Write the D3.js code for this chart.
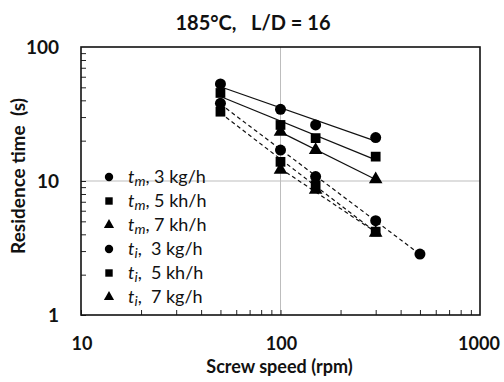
<!DOCTYPE html>
<html>
<head>
<meta charset="utf-8">
<script src="https://cdn.jsdelivr.net/npm/d3@7"></script>
<style>
  body { margin: 0; background: #fff; }
  text { font-family: Lato, "Open Sans", sans-serif; fill: #111; }
</style>
</head>
<body>
<div id="chart"></div>
<script>
// screw speed (rpm) for each series
const speedsM3 = [50, 100, 150, 300];
const speedsM5 = [50, 100, 150, 300];
const speedsM7 = [100, 150, 300];
const speedsI3 = [50, 100, 150, 300, 500];
const speedsI5 = [50, 100, 150, 300];
const speedsI7 = [100, 150, 300];

// residence time (s)
const timesM3 = [53, 34.3, 26.2, 21.1];
const timesM5 = [45.4, 26.2, 20.9, 15.2];
const timesM7 = [23.3, 17.0, 10.3];
const timesI3 = [38.0, 17.0, 10.8, 5.06, 2.85];
const timesI5 = [32.9, 13.9, 9.3, 4.19];
const timesI7 = [12.1, 8.6, 4.1];

const xTicks = [10, 100, 1000];
const yTicks = [1, 10, 100];

const series = [
  { sub: "m", label: ", 3 kg/h", shape: "circle", dashed: false, xs: speedsM3, ys: timesM3 },
  { sub: "m", label: ", 5 kh/h", shape: "square", dashed: false, xs: speedsM5, ys: timesM5 },
  { sub: "m", label: ", 7 kh/h", shape: "triangle", dashed: false, xs: speedsM7, ys: timesM7 },
  { sub: "i", label: ",  3 kg/h", shape: "circle", dashed: true, xs: speedsI3, ys: timesI3 },
  { sub: "i", label: ",  5 kh/h", shape: "square", dashed: true, xs: speedsI5, ys: timesI5 },
  { sub: "i", label: ",  7 kg/h", shape: "triangle", dashed: true, xs: speedsI7, ys: timesI7 }
];

const width = 504, height = 382;
const margin = { top: 47, right: 24, bottom: 67, left: 81 };

const svg = d3.select("#chart").append("svg")
  .attr("width", width)
  .attr("height", height);

const x = d3.scaleLog().domain([10, 1000]).range([margin.left, width - margin.right]);
const y = d3.scaleLog().domain([1, 100]).range([height - margin.bottom, margin.top]);

const symbols = {
  circle: d3.symbol().type(d3.symbolCircle).size(95),
  square: d3.symbol().type(d3.symbolSquare).size(95),
  triangle: d3.symbol().type(d3.symbolTriangle).size(80)
};

// gridlines at the middle decades
svg.append("line")
  .attr("x1", x(100)).attr("x2", x(100))
  .attr("y1", y(1)).attr("y2", y(100))
  .attr("stroke", "#bdbdbd").attr("stroke-width", 1);
svg.append("line")
  .attr("x1", x(10)).attr("x2", x(1000))
  .attr("y1", y(10)).attr("y2", y(10))
  .attr("stroke", "#bdbdbd").attr("stroke-width", 1);

// minor ticks, pointing inward
const minorX = d3.range(10, 1000).filter(v => {
  const p = Math.pow(10, Math.floor(Math.log10(v) + 1e-9));
  return v % p === 0;
});
svg.append("g")
  .attr("transform", `translate(0,${y(1)})`)
  .call(d3.axisTop(x).tickValues(minorX).tickSize(5).tickFormat(""))
  .call(g => g.select(".domain").remove())
  .selectAll("line").attr("stroke", "#222").attr("stroke-width", 1);

const minorY = d3.range(1, 100).filter(v => {
  const p = Math.pow(10, Math.floor(Math.log10(v) + 1e-9));
  return v % p === 0;
});
svg.append("g")
  .attr("transform", `translate(${x(10)},0)`)
  .call(d3.axisRight(y).tickValues(minorY).tickSize(5).tickFormat(""))
  .call(g => g.select(".domain").remove())
  .selectAll("line").attr("stroke", "#222").attr("stroke-width", 1);

// plot frame
svg.append("rect")
  .attr("x", x(10)).attr("y", y(100))
  .attr("width", x(1000) - x(10)).attr("height", y(1) - y(100))
  .attr("fill", "none").attr("stroke", "#111").attr("stroke-width", 1.6);

// tick labels
svg.selectAll(".xlab").data(xTicks).enter().append("text")
  .attr("x", d => x(d) + (d === 1000 ? -1 : 1))
  .attr("y", y(1) + 35)
  .attr("text-anchor", "middle")
  .attr("font-size", 18).attr("font-weight", "bold")
  .text(d => d);

svg.selectAll(".ylab").data(yTicks).enter().append("text")
  .attr("x", x(10) - 22)
  .attr("y", d => y(d) + 7)
  .attr("text-anchor", "end")
  .attr("font-size", 19).attr("font-weight", "bold")
  .text(d => d);

// titles
svg.append("text")
  .attr("x", 253).attr("y", 30)
  .attr("text-anchor", "middle")
  .attr("font-size", 20).attr("font-weight", "bold")
  .attr("xml:space", "preserve")
  .text("185°C,   L/D = 16");

svg.append("text")
  .attr("x", x(100) - 1).attr("y", 373)
  .attr("text-anchor", "middle")
  .attr("font-size", 18).attr("font-weight", "bold")
  .text("Screw speed (rpm)");

svg.append("text")
  .attr("transform", `translate(25,${y(10) - 5}) rotate(-90)`)
  .attr("text-anchor", "middle")
  .attr("font-size", 19).attr("font-weight", "bold")
  .attr("xml:space", "preserve")
  .text("Residence time  (s)");

// power-law trendline fitted in log-log space
function trend(xs, ys) {
  const lx = xs.map(Math.log10), ly = ys.map(Math.log10);
  const mx = d3.mean(lx), my = d3.mean(ly);
  const b = d3.sum(lx, (v, i) => (v - mx) * (ly[i] - my)) / d3.sum(lx, v => (v - mx) * (v - mx));
  const a = my - b * mx;
  return d3.extent(xs).map(v => [v, Math.pow(10, a + b * Math.log10(v))]);
}

const line = d3.line().x(d => x(d[0])).y(d => y(d[1]));

series.forEach(s => {
  svg.append("path")
    .attr("d", line(trend(s.xs, s.ys)))
    .attr("fill", "none")
    .attr("stroke", "#111")
    .attr("stroke-width", 1.2)
    .attr("stroke-dasharray", s.dashed ? "4,3" : null);
});

series.slice().reverse().forEach(s => {
  svg.selectAll(null).data(s.xs.map((v, i) => [v, s.ys[i]])).enter()
    .append("path")
    .attr("transform", d => `translate(${x(d[0])},${y(d[1])})`)
    .attr("d", symbols[s.shape])
    .attr("fill", "#000");
});

// legend
const legendSymbols = {
  circle: d3.symbol().type(d3.symbolCircle).size(55),
  square: d3.symbol().type(d3.symbolSquare).size(55),
  triangle: d3.symbol().type(d3.symbolTriangle).size(45)
};
const legend = svg.append("g").attr("transform", "translate(109,177)");
series.forEach((s, i) => {
  const row = legend.append("g").attr("transform", `translate(0,${i * 24})`);
  row.append("path")
    .attr("d", legendSymbols[s.shape])
    .attr("fill", "#000");
  const t = row.append("text")
    .attr("x", 19).attr("y", 6)
    .attr("font-size", 18)
    .attr("xml:space", "preserve");
  t.append("tspan").attr("font-style", "italic").text("t");
  t.append("tspan").attr("font-style", "italic").attr("font-size", 14).attr("dy", 3).text(s.sub);
  t.append("tspan").attr("dy", -3).text(s.label);
});
</script>
</body>
</html>
